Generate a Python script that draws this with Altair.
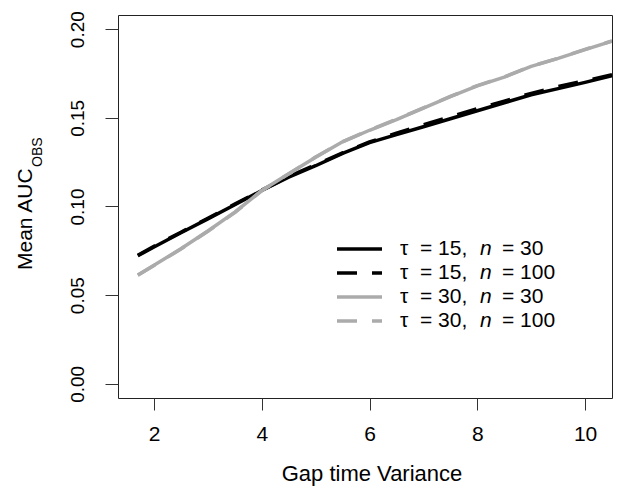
import altair as alt
import pandas as pd

# ---- data ----
x_vals = [1.7, 2.0, 2.5, 3.0, 3.5, 4.0, 4.5, 5.0, 5.5, 6.0, 6.5, 7.0, 7.5, 8.0, 8.5, 9.0, 9.5, 10.0, 10.5]
tau15_n30 = [0.0722, 0.0772, 0.0852, 0.0930, 0.1010, 0.1090, 0.1165, 0.1230, 0.1300, 0.1360, 0.1405, 0.1450, 0.1495,
             0.1540, 0.1585, 0.1630, 0.1665, 0.1700, 0.1738]
tau15_n100 = [0.0725, 0.0776, 0.0855, 0.0934, 0.1014, 0.1092, 0.1169, 0.1236, 0.1302, 0.1364, 0.1413, 0.1461, 0.1506,
              0.1552, 0.1594, 0.1638, 0.1676, 0.1709, 0.1743]
tau30_n30 = [0.0614, 0.0668, 0.0762, 0.0862, 0.0968, 0.1090, 0.1185, 0.1278, 0.1365, 0.1430, 0.1490, 0.1555, 0.1620,
             0.1680, 0.1730, 0.1790, 0.1835, 0.1885, 0.1933]
tau30_n100 = [0.0612, 0.0667, 0.0760, 0.0860, 0.0966, 0.1089, 0.1184, 0.1279, 0.1366, 0.1431, 0.1492, 0.1556, 0.1621,
              0.1682, 0.1731, 0.1791, 0.1836, 0.1886, 0.1934]

series_names = ["tau15_n30", "tau15_n100", "tau30_n30", "tau30_n100"]
series_vals = [tau15_n30, tau15_n100, tau30_n30, tau30_n100]
tau_labels = ["15,", "15,", "30,", "30,"]
n_labels = ["30", "100", "30", "100"]

x_ticks = [2, 4, 6, 8, 10]
y_ticks = [0.0, 0.05, 0.10, 0.15, 0.20]

# ---- styles ----
FONT = "Liberation Sans"
BLACK = "#000000"
GRAY = "#ababab"
colors = [BLACK, BLACK, GRAY, GRAY]
dashes = [None, [20, 15], None, [20, 15]]
LW = 3.5

rows = []
for name, vals in zip(series_names, series_vals):
    for xv, yv in zip(x_vals, vals):
        rows.append({"series": name, "x": xv, "y": yv})
df = pd.DataFrame(rows)

x_scale = alt.Scale(domain=[1.332, 10.5], nice=False, zero=False)
y_scale = alt.Scale(domain=[-0.008, 0.208], nice=False, zero=False)

x_axis = alt.Axis(values=x_ticks, format="d", domain=False, grid=False, tickSize=12, tickColor="#333",
                  tickWidth=1, labelFont=FONT, labelFontSize=21, labelColor="#000", labelPadding=13,
                  title=None)
y_axis = alt.Axis(values=y_ticks, format=".2f", domain=False, grid=False, tickSize=13, tickColor="#333",
                  tickWidth=1, labelFont=FONT, labelFontSize=19, labelColor="#000", labelAngle=270,
                  labelAlign="center", labelBaseline="alphabetic", labelPadding=22, title=None)

layers = []
for i, name in enumerate(series_names):
    mk = dict(color=colors[i], strokeWidth=LW, clip=True, strokeCap="butt", strokeJoin="round")
    if dashes[i] is not None:
        mk["strokeDash"] = dashes[i]
    layers.append(
        alt.Chart(df[df["series"] == name]).mark_line(**mk).encode(
            x=alt.X("x:Q", scale=x_scale, axis=x_axis),
            y=alt.Y("y:Q", scale=y_scale, axis=y_axis),
        )
    )

# ---- legend (drawn by hand to allow the italic n) ----
leg_y = [234, 258, 282, 306]
for i in range(4):
    mk = dict(color=colors[i], strokeWidth=LW, strokeCap="butt")
    if dashes[i] is not None:
        mk["strokeDash"] = dashes[i]
    layers.append(alt.Chart().mark_rule(**mk).encode(
        x=alt.value(219), x2=alt.value(264), y=alt.value(leg_y[i])))
    txt = dict(font=FONT, fontSize=21, color="#000", align="left", baseline="middle")
    layers.append(alt.Chart().mark_text(text="τ", **txt).encode(x=alt.value(282), y=alt.value(leg_y[i])))
    layers.append(alt.Chart().mark_text(text="= " + tau_labels[i], **txt).encode(x=alt.value(302), y=alt.value(leg_y[i])))
    layers.append(alt.Chart().mark_text(text="n", fontStyle="italic", **txt).encode(x=alt.value(362), y=alt.value(leg_y[i])))
    layers.append(alt.Chart().mark_text(text="= " + n_labels[i], **txt).encode(x=alt.value(384), y=alt.value(leg_y[i])))

# ---- axis titles ----
layers.append(alt.Chart().mark_text(text="Gap time Variance", font=FONT, fontSize=22, color="#000",
                                    align="center", baseline="alphabetic").encode(
    x=alt.value(254), y=alt.value(466)))
layers.append(alt.Chart().mark_text(text="Mean AUC", font=FONT, fontSize=21, color="#000", angle=270,
                                    align="left", baseline="alphabetic").encode(
    x=alt.value(-86), y=alt.value(255)))
layers.append(alt.Chart().mark_text(text="OBS", font=FONT, fontSize=14, color="#000", angle=270,
                                    align="left", baseline="alphabetic").encode(
    x=alt.value(-76), y=alt.value(152)))

chart = alt.layer(*layers).properties(
    width=494, height=383,
    autosize=alt.AutoSizeParams(type="none"),
    padding={"left": 110, "top": 7, "right": 9, "bottom": 89},
    background="white",
).configure_view(stroke="#222", strokeWidth=1)

chart.save("out.html", embed_options={"renderer": "svg", "actions": False})
